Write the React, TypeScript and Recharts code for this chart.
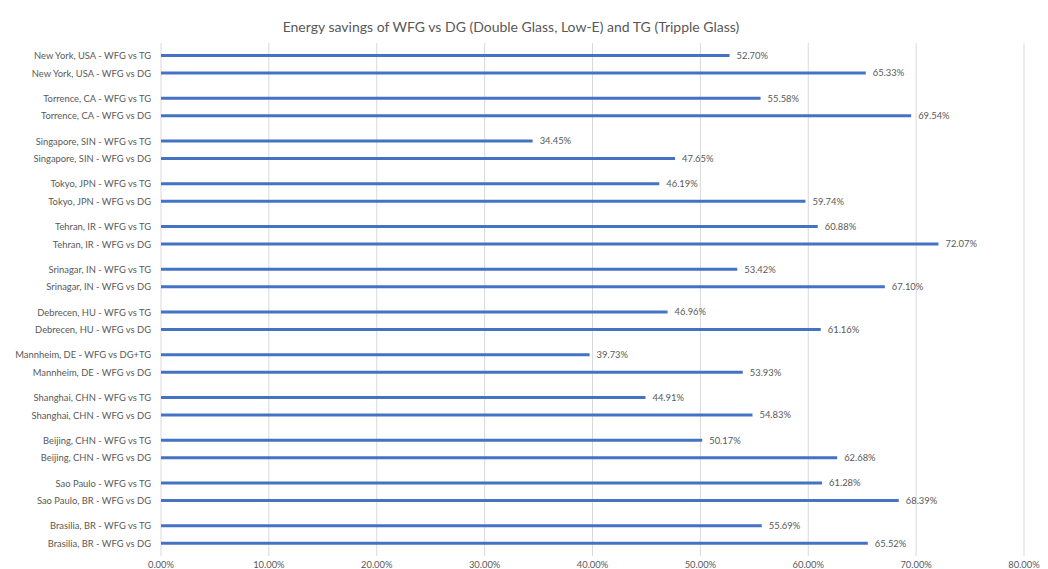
import { BarChart, Bar, XAxis, YAxis, CartesianGrid, LabelList } from 'recharts';

const locations = [
  'New York', 'Torrence', 'Singapore', 'Tokyo', 'Tehran', 'Srinagar',
  'Debrecen', 'Mannheim', 'Shanghai', 'Beijing', 'Sao Paulo', 'Brasilia',
];

const tgLabels = [
  'New York, USA - WFG vs TG', 'Torrence, CA - WFG vs TG', 'Singapore, SIN - WFG vs TG',
  'Tokyo, JPN - WFG vs TG', 'Tehran, IR - WFG vs TG', 'Srinagar, IN - WFG vs TG',
  'Debrecen, HU - WFG vs TG', 'Mannheim, DE - WFG vs DG+TG', 'Shanghai, CHN - WFG vs TG',
  'Beijing, CHN - WFG vs TG', 'Sao Paulo - WFG vs TG', 'Brasilia, BR - WFG vs TG',
];

const dgLabels = [
  'New York, USA - WFG vs DG', 'Torrence, CA - WFG vs DG', 'Singapore, SIN - WFG vs DG',
  'Tokyo, JPN - WFG vs DG', 'Tehran, IR - WFG vs DG', 'Srinagar, IN - WFG vs DG',
  'Debrecen, HU - WFG vs DG', 'Mannheim, DE - WFG vs DG', 'Shanghai, CHN - WFG vs DG',
  'Beijing, CHN - WFG vs DG', 'Sao Paulo, BR - WFG vs DG', 'Brasilia, BR - WFG vs DG',
];

const tgValues = [52.7, 55.58, 34.45, 46.19, 60.88, 53.42, 46.96, 39.73, 44.91, 50.17, 61.28, 55.69];
const dgValues = [65.33, 69.54, 47.65, 59.74, 72.07, 67.1, 61.16, 53.93, 54.83, 62.68, 68.39, 65.52];

const xTicks = [0, 10, 20, 30, 40, 50, 60, 70, 80];

const BAR = 3;
const GAP = 14.5;
const FONT = 'Lato, "Open Sans", sans-serif';
const GREY = '#595959';
const SMALL = 9.4;

const pct = (v: number) => `${Number(v).toFixed(2)}%`;

function PairTick(props: any) {
  const { x, y, payload } = props;
  const i = payload.index;
  const d = (BAR + GAP) / 2;
  return (
    <g>
      <text x={x} y={y - d} textAnchor="end" dominantBaseline="central" fontSize={SMALL} fill={GREY} fontFamily={FONT}>
        {tgLabels[i]}
      </text>
      <text x={x} y={y + d} textAnchor="end" dominantBaseline="central" fontSize={SMALL} fill={GREY} fontFamily={FONT}>
        {dgLabels[i]}
      </text>
    </g>
  );
}

export default function App() {
  const data = locations.map((loc, i) => ({ loc, tg: tgValues[i], dg: dgValues[i] }));

  return (
    <div style={{ position: 'absolute', left: 0, top: 0, width: 1048, height: 569, background: '#fff', fontFamily: FONT }}>
      <div style={{ position: 'absolute', top: 18, left: 0, width: 1022, textAlign: 'center', fontSize: 14, color: GREY }}>
        Energy savings of WFG vs DG (Double Glass, Low-E) and TG (Tripple Glass)
      </div>
      <BarChart
        width={1048}
        height={569}
        data={data}
        layout="vertical"
        margin={{ top: 43, right: 24, bottom: 0, left: 0 }}
        barSize={BAR}
        barGap={GAP}
      >
        <CartesianGrid horizontal={false} stroke="#d9d9d9" />
        <XAxis
          type="number"
          domain={[0, 80]}
          ticks={xTicks}
          tickFormatter={pct}
          axisLine={false}
          tickLine={false}
          tickSize={0}
          tickMargin={5}
          height={13}
          tick={{ fontSize: SMALL, fill: GREY, fontFamily: FONT }}
        />
        <YAxis
          type="category"
          dataKey="loc"
          width={161}
          axisLine={false}
          tickLine={false}
          tickSize={0}
          tickMargin={10}
          interval={0}
          tick={<PairTick />}
        />
        <Bar dataKey="tg" fill="#4472C4" isAnimationActive={false}>
          <LabelList dataKey="tg" position="right" offset={7} formatter={pct} fontSize={SMALL} fill={GREY} fontFamily={FONT} />
        </Bar>
        <Bar dataKey="dg" fill="#4472C4" isAnimationActive={false}>
          <LabelList dataKey="dg" position="right" offset={7} formatter={pct} fontSize={SMALL} fill={GREY} fontFamily={FONT} />
        </Bar>
      </BarChart>
    </div>
  );
}
